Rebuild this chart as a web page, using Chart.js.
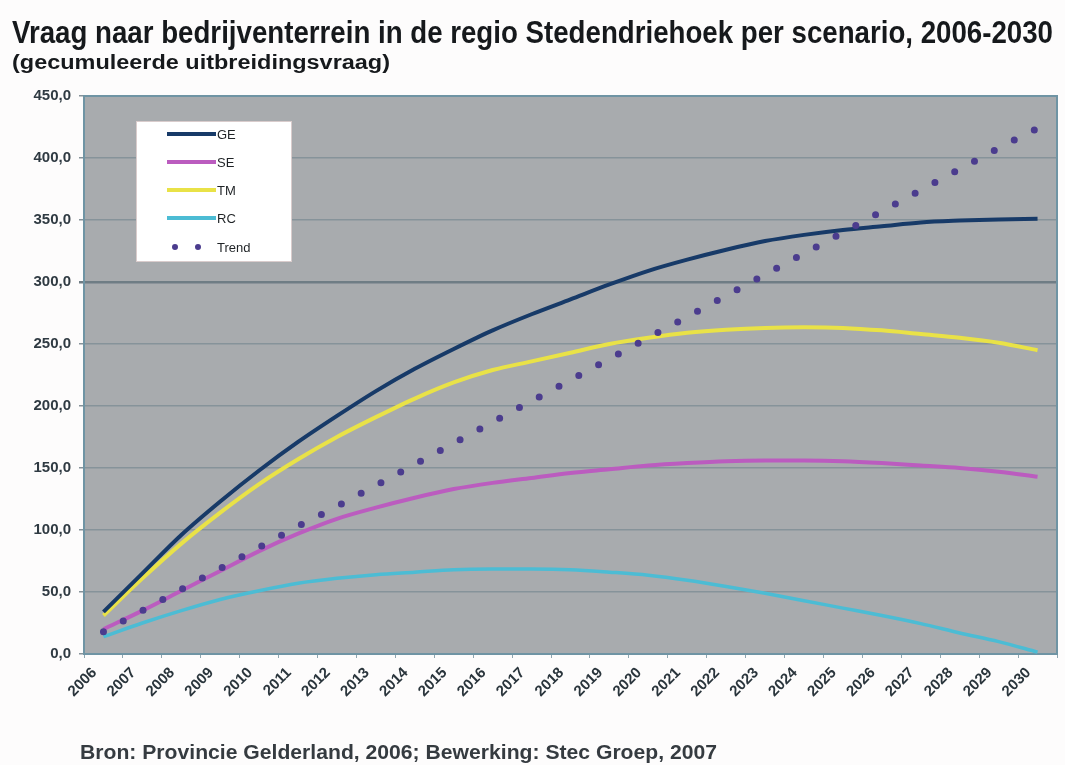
<!DOCTYPE html>
<html>
<head>
<meta charset="utf-8">
<script src="https://cdn.jsdelivr.net/npm/chart.js@4.4.0/dist/chart.umd.min.js"></script>
<style>
  html, body { margin: 0; padding: 0; background: #fdfcfc; }
  #wrap { width: 1065px; height: 765px; }
</style>
</head>
<body>
<div id="wrap"><canvas id="myChart" width="1065" height="765"></canvas></div>
<script>
// categories
const years = ['2006', '2007', '2008', '2009', '2010', '2011', '2012', '2013', '2014', '2015',
  '2016', '2017', '2018', '2019', '2020', '2021', '2022', '2023', '2024', '2025',
  '2026', '2027', '2028', '2029', '2030']

// series (gecumuleerde uitbreidingsvraag)
const ge = [34, 65, 96, 123, 148, 171, 192, 212, 230, 246, 261, 274, 286, 298, 309, 318,
  326, 333, 338, 342, 345, 348, 349.5, 350.5, 351]
const se = [20, 35, 51, 67, 83, 97, 109, 118, 126, 133, 138, 142, 146, 149, 152, 154,
  155.5, 156, 156, 155.5, 154, 152, 150, 147, 143]
const tm = [31, 61, 89, 114, 137, 157, 175, 191, 206, 219, 229, 236, 243, 250, 255, 259,
  261.5, 263, 263.5, 263, 261, 258, 255, 251, 245]
const rc = [14, 25, 35, 44, 51, 57, 61, 64, 66, 68, 68.5, 68.5, 68, 66, 63.5, 59.5,
  54.5, 49, 43, 37, 31, 24.5, 17, 10, 1.5]
const trend = [18, 35, 52, 69, 86, 103, 119, 136, 153, 170, 187, 204, 221, 238, 255, 272,
  289, 306, 323, 340, 357, 374, 391, 408, 424]

// y axis ticks
const yMin = 0
const yMax = 450
const yStep = 50

const titleText = 'Vraag naar bedrijventerrein in de regio Stedendriehoek per scenario, 2006-2030'
const subtitleText = '(gecumuleerde uitbreidingsvraag)'
const footerText = 'Bron: Provincie Gelderland, 2006; Bewerking: Stec Groep, 2007'

const FONT = '"Liberation Sans", Arial, Helvetica, sans-serif'

// draw text squeezed to a given width (the original uses a condensed face)
function fitText(ctx, text, x, baseline, size, weight, width, color) {
  ctx.save()
  ctx.font = `${weight} ${size}px ${FONT}`
  ctx.fillStyle = color
  ctx.textAlign = 'left'
  ctx.textBaseline = 'alphabetic'
  const w = ctx.measureText(text).width
  ctx.translate(x, baseline)
  ctx.scale(width / w, 1)
  ctx.fillText(text, 0, 0)
  ctx.restore()
}

const decorPlugin = {
  id: 'decor',
  beforeDraw(chart) {
    const { ctx, chartArea: a } = chart
    ctx.save()
    ctx.fillStyle = '#a8abae'
    ctx.fillRect(a.left, a.top, a.right - a.left, a.bottom - a.top)
    ctx.restore()
  },
  beforeDatasetsDraw(chart) {
    const { ctx, chartArea: a } = chart
    ctx.save()
    ctx.strokeStyle = '#6f94a4'
    ctx.lineWidth = 2
    ctx.beginPath()
    ctx.moveTo(a.left, a.top)
    ctx.lineTo(a.right, a.top)
    ctx.lineTo(a.right, a.bottom)
    ctx.stroke()
    ctx.restore()
  },
  afterDraw(chart) {
    const { ctx } = chart
    fitText(ctx, titleText, 12, 43, 31, 'bold', 1041, '#16191c')
    fitText(ctx, subtitleText, 12, 69, 20, 'bold', 378, '#16191c')
    fitText(ctx, footerText, 80, 759, 21, 'bold', 637, '#353b40')

    // legend box inside the plot
    const box = { x: 136, y: 121, w: 155, h: 140 }
    ctx.save()
    ctx.fillStyle = '#ffffff'
    ctx.fillRect(box.x, box.y, box.w, box.h)
    ctx.strokeStyle = '#d9cccc'
    ctx.lineWidth = 1
    ctx.strokeRect(box.x + 0.5, box.y + 0.5, box.w, box.h)
    const rows = [134, 162, 190, 218, 247]
    chart.data.datasets.forEach((ds, i) => {
      const y = rows[i]
      ctx.strokeStyle = ds.borderColor
      ctx.lineWidth = ds.legendWidth
      ctx.lineCap = ds.borderDash ? 'round' : 'butt'
      ctx.setLineDash(ds.borderDash ? [0, 23] : [])
      ctx.beginPath()
      if (ds.borderDash) {
        ctx.moveTo(175, y)
        ctx.lineTo(199, y)
      } else {
        ctx.moveTo(167, y)
        ctx.lineTo(216, y)
      }
      ctx.stroke()
      ctx.setLineDash([])
      ctx.fillStyle = '#1f2326'
      ctx.font = `13px ${FONT}`
      ctx.textBaseline = 'middle'
      ctx.fillText(ds.label, 217, y + 1)
    })
    ctx.restore()
  }
}

const ctx = document.getElementById('myChart')
const myChart = new Chart(ctx, {
  type: 'line',
  data: {
    labels: years,
    datasets: [
      { label: 'GE', data: ge, borderColor: '#173a68', borderWidth: 4, legendWidth: 4, order: 2 },
      { label: 'SE', data: se, borderColor: '#bb5cbf', borderWidth: 4, legendWidth: 4, order: 3 },
      { label: 'TM', data: tm, borderColor: '#e9e247', borderWidth: 4, legendWidth: 4, order: 4 },
      { label: 'RC', data: rc, borderColor: '#4cbcd4', borderWidth: 3.5, legendWidth: 4, order: 5 },
      {
        label: 'Trend', data: trend, borderColor: '#4b3c8e', borderWidth: 7, legendWidth: 6,
        borderDash: [0, 22.5], borderCapStyle: 'round', tension: 0,
        cubicInterpolationMode: 'default', order: 1
      }
    ]
  },
  options: {
    responsive: false,
    animation: false,
    devicePixelRatio: 1,
    layout: { padding: { top: 96, right: 8, bottom: 0, left: 0 } },
    elements: {
      point: { radius: 0 },
      line: { cubicInterpolationMode: 'monotone', fill: false }
    },
    datasets: { line: { clip: 6 } },
    scales: {
      x: {
        type: 'category',
        offset: true,
        grid: {
          offset: true, drawOnChartArea: false, drawTicks: true, tickLength: 4,
          color: '#8fa6b0'
        },
        border: { display: true, color: '#6f94a4', width: 2 },
        ticks: {
          autoSkip: false, minRotation: 45, maxRotation: 45, padding: 6,
          labelOffset: -9,
          color: '#2a353c',
          font: { family: FONT, size: 15, weight: 'bold' }
        },
        afterFit(scale) { scale.height = 111 }
      },
      y: {
        min: yMin,
        max: yMax,
        ticks: {
          stepSize: yStep,
          padding: 8,
          color: '#2f3a42',
          font: { family: FONT, size: 15, weight: 'bold' },
          callback: (v) => v.toFixed(1).replace('.', ',')
        },
        grid: {
          color: (c) => (c.tick && c.tick.value === 300 ? '#6f7d85' : '#86939a'),
          lineWidth: (c) => (c.tick && c.tick.value === 300 ? 2.5 : 1.5),
          tickLength: 5,
          drawTicks: true
        },
        border: { display: true, color: '#6f94a4', width: 2 },
        afterFit(scale) { scale.width = 84 }
      }
    },
    plugins: {
      legend: { display: false },
      title: { display: false },
      tooltip: { enabled: false }
    }
  },
  plugins: [decorPlugin]
})
</script>
</body>
</html>
